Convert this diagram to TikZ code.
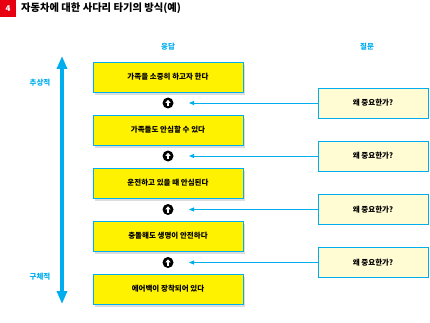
\documentclass[tikz,border=0pt]{standalone}
\usepackage{fontspec}
\setmainfont{Noto Sans CJK KR}
\usetikzlibrary{shadows,arrows.meta}
\definecolor{cyanA}{HTML}{00AEEF}
\definecolor{yelA}{HTML}{FFF200}
\definecolor{yelB}{HTML}{FFFBD2}
\definecolor{redA}{HTML}{E60012}
\tikzset{
  resp/.style={draw=cyanA, line width=0.9pt, fill=yelA, minimum width=150pt, minimum height=30pt,
    inner sep=0pt, font=\fontsize{7.5}{9}\selectfont\bfseries,
    drop shadow={shadow xshift=1.5pt, shadow yshift=-3pt, opacity=0.22, fill=black!60}},
  ques/.style={draw=cyanA, line width=0.9pt, fill=yelB, minimum width=110pt, minimum height=30pt,
    inner sep=0pt, font=\fontsize{7.5}{9}\selectfont\bfseries},
  hdr/.style={text=cyanA, font=\fontsize{7.5}{9}\selectfont\bfseries},
  dot/.style={circle, fill=black, minimum size=11pt, inner sep=0pt},
  whitearr/.style={white, line width=1.6pt, -{Triangle[length=3pt,width=5pt]}},
  link/.style={draw=cyanA, line width=0.9pt, -{Triangle[length=5pt,width=4pt]}},
}
\begin{document}
\begin{tikzpicture}[x=1pt,y=-1pt]
\useasboundingbox[fill=white] (0,0) rectangle (430,323);
% title
\node[fill=redA, minimum width=16pt, minimum height=17pt, inner sep=0pt, text=white,
  font=\fontsize{8}{9}\selectfont\bfseries\itshape] (badge) at (8,8.5) {4};
\node[anchor=west, inner sep=0pt, font=\fontsize{10.3}{12}\selectfont\bfseries] (title) at (21,8.5) {자동차에 대한 사다리 타기의 방식(예)};
% headers
\node[hdr] (h1) at (168,47) {응답};
\node[hdr] (h2) at (367,47) {질문};
% vertical arrow
\coordinate (vtop) at (62,56);
\coordinate (vbot) at (62,304);
\draw[cyanA, line width=3.5pt, {Triangle[length=13pt,width=10pt]}-{Triangle[length=13pt,width=10pt]}] (vtop) -- (vbot);
\node[hdr] (abs) at (40,83) {추상적};
\node[hdr] (con) at (40,277) {구체적};
% response boxes
\node[resp] (r1) at (168,77) {가족을 소중히 하고자 한다};
\node[resp] (r2) at (168,130) {가족들도 안심할 수 있다};
\node[resp] (r3) at (168,183) {운전하고 있을 때 안심된다};
\node[resp] (r4) at (168,236) {충돌해도 생명이 안전하다};
\node[resp] (r5) at (168,289) {에어백이 장착되어 있다};
% dots
\foreach \i/\y in {1/103,2/156,3/209.5,4/262.5}{
  \node[dot] (d\i) at (168,\y) {};
  \coordinate (ds\i) at (168,\y+3);
  \coordinate (de\i) at (168,\y-3.2);
  \draw[whitearr] (ds\i) -- (de\i);
  \coordinate (t\i) at (189,\y);
}
% questions
\node[ques] (q1) at (373,103) {왜 중요한가?};
\node[ques] (q2) at (373,156) {왜 중요한가?};
\node[ques] (q3) at (373,209.5) {왜 중요한가?};
\node[ques] (q4) at (373,262.5) {왜 중요한가?};
\foreach \i in {1,2,3,4}{
  \draw[link] (q\i.west) -- (t\i);
}
\end{tikzpicture}
\end{document}
